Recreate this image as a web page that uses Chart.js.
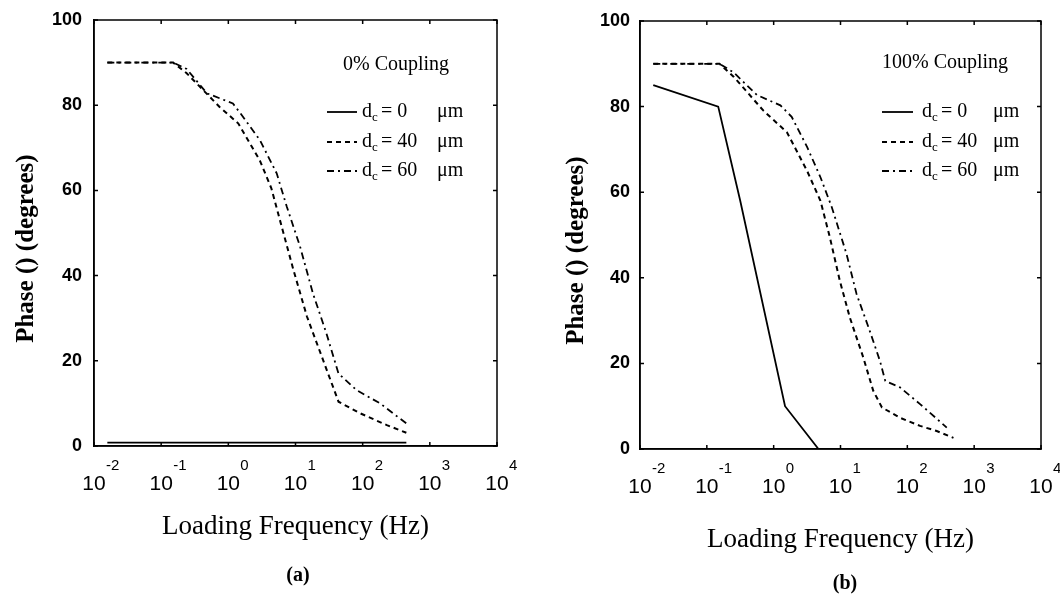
<!DOCTYPE html>
<html><head><meta charset="utf-8">
<script src="https://cdn.jsdelivr.net/npm/chart.js@4/dist/chart.umd.min.js"></script>
<style>
html,body{margin:0;padding:0;background:#fff;}
#wrap{position:relative;width:1060px;height:609px;overflow:hidden;}
.box{position:absolute;top:0;width:530px;height:609px;}
</style></head><body>
<div id="wrap">
<div class="box" style="left:0"><canvas id="ca"></canvas></div>
<div class="box" style="left:530px"><canvas id="cb"></canvas></div>
</div>
<script>
// ---- tick labels ----
const X_TICKS = [0.01, 0.1, 1, 10, 100, 1000, 10000];
const X_EXP = ['-2', '-1', '0', '1', '2', '3', '4'];
const Y_TICKS = [0, 20, 40, 60, 80, 100];
const LEGEND_VALUES = ['0', '40', '60'];
const PANEL_TITLES = ['0% Coupling', '100% Coupling'];
const PANEL_LABELS = ['(a)', '(b)'];

// ---- panel (a): 0% coupling (frequency in Hz, phase in degrees) ----
const A_D0_F = [0.0158, 447];
const A_D0_V = [0.8, 0.8];
const A_D40_F = [0.0158, 0.151, 0.24, 0.741, 1.41, 2.95, 4.37, 6.61, 9.33, 14.8, 25.7, 43.7, 91.2, 229, 447];
const A_D40_V = [90, 90, 87.5, 79.6, 75.7, 67, 60.5, 50, 41.3, 30.4, 20.2, 10.4, 7.7, 4.9, 3.1];
const A_D60_F = [0.0158, 0.151, 0.24, 0.479, 1.17, 1.58, 2.95, 5.25, 7.41, 11.7, 18.2, 28.8, 43.7, 81.3, 182, 447];
const A_D60_V = [90, 90, 88.5, 82.8, 80.4, 77.7, 71.8, 64, 56.2, 46.8, 35.8, 26.5, 17, 13.1, 10, 5.3];

// ---- panel (b): 100% coupling ----
const B_D0_F = [0.0158, 0.148, 0.316, 1.48, 4.68];
const B_D0_V = [85, 80, 58, 10, 0];
const B_D40_F = [0.0158, 0.155, 0.251, 0.708, 1.58, 3.16, 5.01, 6.92, 9.77, 13.8, 21.9, 30.9, 41.7, 77.6, 155, 275, 490];
const B_D40_V = [90, 90, 87, 79, 74, 65, 58, 49.5, 39.3, 30.7, 21.4, 13.6, 9.7, 7.3, 5.4, 4.2, 2.6];
const B_D60_F = [0.0158, 0.155, 0.251, 0.562, 1.26, 1.86, 3.16, 5.01, 7.41, 12.3, 17.4, 26.3, 38.9, 46.8, 77.6, 155, 389];
const B_D60_V = [90, 90, 88, 82.7, 80.3, 77.6, 70.6, 63.5, 56.5, 45.6, 36.2, 28.4, 20.6, 15.9, 14.4, 10.5, 5];

const DASHES = [[], [5, 4], [7, 4, 2, 4]];
const WIDTHS = [1.8, 2, 1.8];
const SERIF = '"Liberation Serif", "Times New Roman", serif';
const SANS = '"Liberation Sans", Arial, sans-serif';

function pts(f, v) { return f.map((x, i) => ({ x: x, y: v[i] })); }

const decorPlugin = {
  id: 'decor',
  afterDatasetsDraw(chart) {
    const o = chart.options.plugins.decor;
    const { ctx, chartArea: a, scales: { x, y } } = chart;
    ctx.save();
    ctx.strokeStyle = '#000';
    ctx.lineWidth = 1.5;
    ctx.setLineDash([]);
    ctx.strokeRect(a.left, a.top, a.right - a.left, a.bottom - a.top);
    ctx.beginPath();
    X_TICKS.forEach(v => {
      const p = x.getPixelForValue(v);
      ctx.moveTo(p, a.bottom); ctx.lineTo(p, a.bottom - 4);
      ctx.moveTo(p, a.top); ctx.lineTo(p, a.top + 4);
    });
    Y_TICKS.forEach(v => {
      const p = y.getPixelForValue(v);
      ctx.moveTo(a.left, p); ctx.lineTo(a.left + 4, p);
      ctx.moveTo(a.right, p); ctx.lineTo(a.right - 4, p);
    });
    ctx.stroke();

    // exponents of x tick labels
    ctx.fillStyle = '#000';
    ctx.font = '15px ' + SANS;
    ctx.textAlign = 'left';
    ctx.textBaseline = 'middle';
    X_TICKS.forEach((v, i) => {
      const p = x.getPixelForValue(v);
      ctx.fillText(X_EXP[i], p + o.expDx, a.bottom + o.expDy);
    });

    // legend
    ctx.font = '20px ' + SERIF;
    ctx.textAlign = 'left';
    ctx.fillText(o.title, o.titleX, o.titleY);
    o.rows.forEach((ry, i) => {
      ctx.beginPath();
      ctx.setLineDash(DASHES[i]);
      ctx.lineWidth = WIDTHS[i];
      ctx.moveTo(o.lineX0, ry); ctx.lineTo(o.lineX1, ry);
      ctx.stroke();
      ctx.setLineDash([]);
      ctx.font = '20px ' + SERIF;
      ctx.fillText('d', o.textX, ry);
      ctx.font = '13px ' + SERIF;
      ctx.fillText('c', o.textX + 10, ry + 6);
      ctx.font = '20px ' + SERIF;
      ctx.fillText('= ' + LEGEND_VALUES[i], o.textX + 19, ry);
      ctx.fillText('\u03bcm', o.textX + o.unitDx, ry);
    });

    // panel label
    ctx.font = 'bold 20px ' + SERIF;
    ctx.textAlign = 'center';
    ctx.fillText(o.panel, o.panelX, o.panelY);
    ctx.restore();
  }
};

function makeChart(id, series, cfg) {
  const datasets = series.map((s, i) => ({
    label: 'dc = ' + LEGEND_VALUES[i] + ' \u03bcm',
    data: s,
    borderColor: '#000',
    backgroundColor: '#000',
    borderWidth: WIDTHS[i],
    borderDash: DASHES[i],
    pointRadius: 0,
    tension: 0,
    fill: false
  }));
  return new Chart(document.getElementById(id), {
    type: 'line',
    data: { datasets },
    options: {
      responsive: true,
      maintainAspectRatio: false,
      animation: false,
      layout: { padding: { top: cfg.top, right: cfg.right, left: 0, bottom: 0 } },
      plugins: { legend: { display: false }, tooltip: { enabled: false }, decor: cfg.decor },
      scales: {
        x: {
          type: 'logarithmic',
          min: 0.01, max: 10000,
          afterBuildTicks: s => { s.ticks = X_TICKS.map(v => ({ value: v })); },
          afterFit: s => { s.height = cfg.xh; s.paddingLeft = 0; s.paddingRight = 0; },
          grid: { display: false, drawTicks: false },
          border: { display: true, color: '#000', width: 1.5 },
          ticks: {
            color: '#000', padding: cfg.xpad, maxRotation: 0, autoSkip: false,
            font: { family: SANS, size: 21 },
            callback: () => '10'
          },
          title: {
            display: true, text: 'Loading Frequency (Hz)', color: '#000',
            font: { family: SERIF, size: 27 },
            padding: { top: 0, bottom: cfg.xtitlePad }
          }
        },
        y: {
          type: 'linear', min: 0, max: 100,
          afterBuildTicks: s => { s.ticks = Y_TICKS.map(v => ({ value: v })); },
          afterFit: s => { s.width = cfg.yw; s.paddingTop = 0; s.paddingBottom = 0; },
          grid: { display: false, drawTicks: false },
          border: { display: true, color: '#000', width: 1.5 },
          ticks: {
            color: '#000', padding: cfg.ypad,
            font: { family: SANS, size: 18, weight: 'bold' }
          },
          title: {
            display: true, text: 'Phase () (degrees)     ', color: '#000',
            font: { family: SERIF, size: 25, weight: 'bold' },
            padding: { top: cfg.ytitlePad, bottom: 0 }
          }
        }
      }
    },
    plugins: [decorPlugin]
  });
}

makeChart('ca', [pts(A_D0_F, A_D0_V), pts(A_D40_F, A_D40_V), pts(A_D60_F, A_D60_V)], {
  top: 20, right: 33, xh: 163, yw: 94, xpad: 26, ypad: 12, xtitlePad: 66, ytitlePad: 12,
  decor: {
    expDx: 12, expDy: 20,
    title: PANEL_TITLES[0], titleX: 343, titleY: 65,
    rows: [112, 142, 171], lineX0: 327, lineX1: 357, textX: 362, unitDx: 75,
    panel: PANEL_LABELS[0], panelX: 298, panelY: 576
  }
});

makeChart('cb', [pts(B_D0_F, B_D0_V), pts(B_D40_F, B_D40_V), pts(B_D60_F, B_D60_V)], {
  top: 21, right: 19, xh: 160, yw: 110, xpad: 26, ypad: 10, xtitlePad: 53, ytitlePad: 32,
  decor: {
    expDx: 12, expDy: 20,
    title: PANEL_TITLES[1], titleX: 352, titleY: 63,
    rows: [112, 142, 171], lineX0: 352, lineX1: 383, textX: 392, unitDx: 71,
    panel: PANEL_LABELS[1], panelX: 315, panelY: 584
  }
});
</script>
</body></html>
